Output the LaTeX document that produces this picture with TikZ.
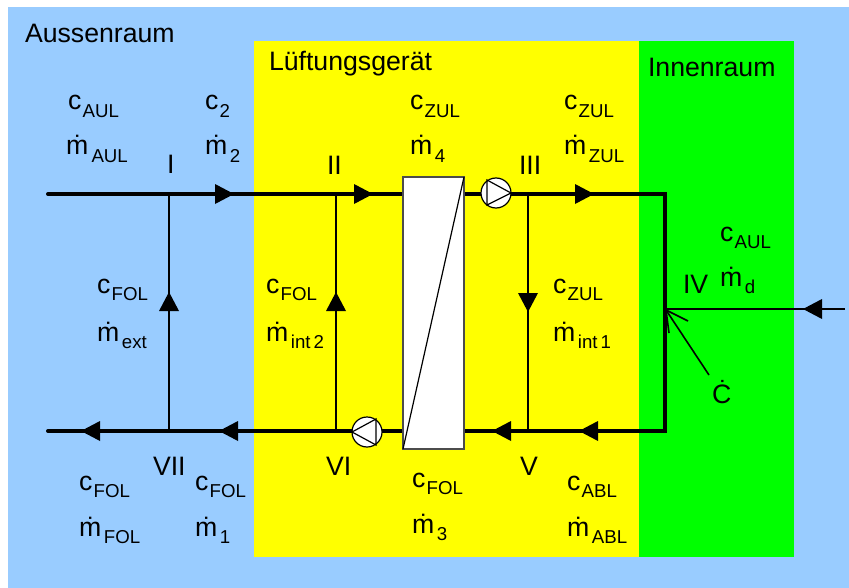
\documentclass[tikz,border=0pt]{standalone}
\usepackage{fontspec}
\setmainfont{Liberation Sans}
\definecolor{airblue}{RGB}{153,204,255}
\definecolor{unityellow}{RGB}{255,255,0}
\definecolor{roomgreen}{RGB}{0,255,0}
\newcommand{\lab}[3]{\fontsize{20pt}{21pt}\selectfont #1\kern#3pt\raisebox{-5.8pt}{\fontsize{14pt}{15pt}\selectfont #2}}
\tikzset{
  x=0.75pt,y=-0.75pt,
  txt/.style={anchor=base west,inner sep=0pt,outer sep=0pt,font=\fontsize{20pt}{21pt}\selectfont},
  pipe/.style={line width=3pt},
  branch/.style={line width=1.5pt},
  tri/.pic={\fill[black] (0,-10)--(19,0)--(0,10)--cycle;},
  fan/.style={circle,draw=black,fill=white,line width=0.9pt,minimum size=22.5pt,inner sep=0pt},
}
\begin{document}
\begin{tikzpicture}
\useasboundingbox (0,0) rectangle (849,588);
\fill[white] (0,0) rectangle (849,588);
\fill[airblue] (8,7) rectangle (849,588);
\fill[unityellow] (254,41) rectangle (639,557);
\fill[roomgreen] (639,41) rectangle (794,557);
% coordinates
\coordinate (ws) at (48,194); \coordinate (nI) at (169,194); \coordinate (nII) at (336,194);
\coordinate (nIII) at (528,194); \coordinate (ne) at (665,194);
\coordinate (wr) at (48,431); \coordinate (nVII) at (169,431); \coordinate (nVI) at (336,431);
\coordinate (nV) at (528,431); \coordinate (se) at (665,431);
\coordinate (nIV) at (665,309); \coordinate (ein) at (845,309);
\coordinate (cfree) at (709,375); \coordinate (ctip) at (666,310);
% pipes
\draw[pipe,line cap=round,line join=miter] (ws) -- (ne) -- (se) -- (wr);
\draw[branch] (nVII) -- (nI);
\draw[branch] (nVI) -- (nII);
\draw[branch] (nIII) -- (nV);
\draw[line width=1.5pt] (ein) -- (nIV);
\draw[line width=1.2pt] (cfree) -- (ctip);
\draw[line width=1.2pt] (688,321) -- (ctip) -- (669,333);
% heat exchanger
\node[draw=black!70,fill=white,line width=0.8pt,minimum width=45.75pt,minimum height=204pt,inner sep=0pt,outer sep=0pt] (hx) at (433.5,313) {};
\draw[line width=0.9pt] (hx.south west) -- (hx.north east);
% fans
\node[fan] (f1) at (496,193) {};
\draw[line width=0.9pt] (487,180) -- (511,193) -- (487,205) -- cycle;
\node[fan] (f2) at (367,432) {};
\draw[line width=0.9pt] (376,419) -- (352,432) -- (376,445) -- cycle;
% arrowheads
\pic at (215,194) {tri};
\pic at (354,194) {tri};
\pic at (575,194) {tri};
\pic[rotate=90] at (169,311) {tri};
\pic[rotate=90] at (336,311) {tri};
\pic[rotate=-90] at (528,293) {tri};
\pic[rotate=180] at (100,431) {tri};
\pic[rotate=180] at (238,431) {tri};
\pic[rotate=180] at (511,431) {tri};
\pic[rotate=180] at (598,431) {tri};
\pic[rotate=180] at (822,309) {tri};
% labels
\node[txt] (t0) at (25,43) {Aussenraum};
\node[txt] (t1) at (269,71) {Lüftungsgerät};
\node[txt] (t2) at (648,77) {Innenraum};
\node[txt] (r1) at (167,174) {I};
\node[txt] (r2) at (327,175) {II};
\node[txt] (r3) at (519,175) {III};
\node[txt] (r4) at (683,293) {IV};
\node[txt] (r5) at (520,475) {V};
\node[txt] (r6) at (326,475) {VI};
\node[txt] (r7) at (153,475) {VII};
\node[txt] (c1) at (68,110) {\lab{c}{AUL}{1}};
\node[txt] (m1) at (66,155) {\lab{ṁ}{AUL}{2.5}};
\node[txt] (c2) at (205,110) {\lab{c}{2}{1}};
\node[txt] (m2) at (205,155) {\lab{ṁ}{2}{2}};
\node[txt] (c3) at (410,110) {\lab{c}{ZUL}{1}};
\node[txt] (m3) at (410,155) {\lab{ṁ}{4}{2}};
\node[txt] (c4) at (564,110) {\lab{c}{ZUL}{1}};
\node[txt] (m4) at (564,155) {\lab{ṁ}{ZUL}{2}};
\node[txt] (c5) at (720,241) {\lab{c}{AUL}{1}};
\node[txt] (m5) at (720,286) {\lab{ṁ}{d}{2}};
\node[txt] (c6) at (97,293) {\lab{c}{FOL}{1}};
\node[txt] (m6) at (97,341) {\lab{ṁ}{ext}{2}};
\node[txt] (c7) at (266,293) {\lab{c}{FOL}{1}};
\node[txt] (m7) at (266,341) {\lab{ṁ}{int\,2}{2}};
\node[txt] (c8) at (553,293) {\lab{c}{ZUL}{1}};
\node[txt] (m8) at (553,341) {\lab{ṁ}{int\,1}{2}};
\node[txt] (c9) at (79,490) {\lab{c}{FOL}{1}};
\node[txt] (m9) at (79,536) {\lab{ṁ}{FOL}{2}};
\node[txt] (c10) at (195,490) {\lab{c}{FOL}{1}};
\node[txt] (m10) at (195,536) {\lab{ṁ}{1}{2}};
\node[txt] (c11) at (412,487) {\lab{c}{FOL}{1}};
\node[txt] (m11) at (412,533) {\lab{ṁ}{3}{2}};
\node[txt] (c12) at (567,490) {\lab{c}{ABL}{1}};
\node[txt] (m12) at (567,536) {\lab{ṁ}{ABL}{2}};
\node[txt] (cd) at (712,403) {Ċ};
\end{tikzpicture}
\end{document}
